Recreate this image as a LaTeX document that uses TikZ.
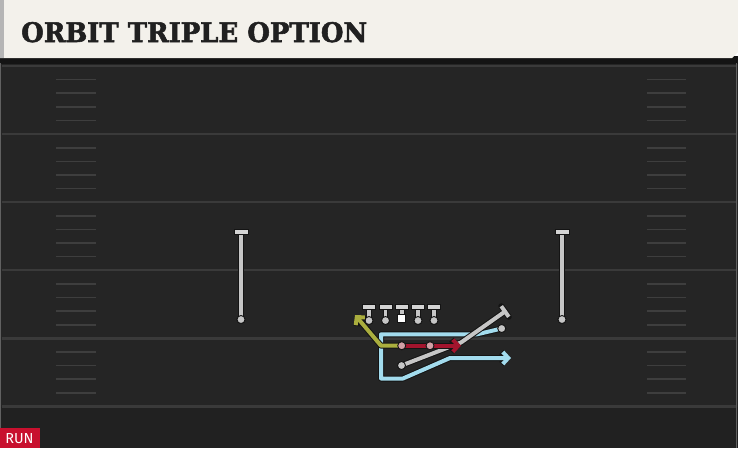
\documentclass[tikz,border=0pt]{standalone}
\usepackage{fontspec}
\usepackage{graphicx}
\usetikzlibrary{arrows.meta,calc}
\newfontfamily\titlefont{DejaVu Serif Bold}[FakeBold=2]
\newfontfamily\runfont{Fira Sans}
\definecolor{fieldbg}{HTML}{252525}
\definecolor{lowbg}{HTML}{212121}
\definecolor{headerbg}{HTML}{F3F1EB}
\definecolor{headedge}{HTML}{B5B5B5}
\definecolor{darkband}{HTML}{141414}
\definecolor{yardc}{HTML}{3A3A3A}
\definecolor{hashc}{HTML}{3E3E3E}
\definecolor{edgec}{HTML}{141414}
\definecolor{playergray}{HTML}{C6C6C6}
\definecolor{bargray}{HTML}{D4D4D4}
\definecolor{bluec}{HTML}{A3DCEE}
\definecolor{redc}{HTML}{A3142D}
\definecolor{olivec}{HTML}{AAAE3E}
\definecolor{pinkc}{HTML}{D2A0A6}
\definecolor{runred}{HTML}{C8102E}
\definecolor{titlec}{HTML}{202020}
\begin{document}
\begin{tikzpicture}[x=1pt,y=-1pt,
  yard/.style={draw=yardc, line width=2.2pt},
  hash/.style={draw=hashc, line width=1.6pt},
  edgeline/.style={draw=edgec, line width=6pt, line cap=round, line join=round},
  stemedge/.style={draw=edgec, line width=5.6pt},
  stemline/.style={draw=playergray, line width=3.8pt},
  tbar/.style={rectangle, minimum width=13pt, minimum height=5pt, inner sep=0pt, fill=bargray, draw=edgec, line width=0.9pt},
  player/.style={circle, minimum size=8pt, inner sep=0pt, fill=playergray, draw=edgec, line width=0.9pt},
  redplayer/.style={player, fill=pinkc},
  centersq/.style={rectangle, minimum size=8pt, inner sep=0pt, fill=white, draw=edgec, line width=0.7pt},
  routeline/.style={line width=4pt, line cap=round, line join=round},
  tip/.style={-{Straight Barb[length=5.5pt,width=12pt]}}
]
\useasboundingbox (0,0) rectangle (738,448);
% backgrounds
\fill[fieldbg] (0,58) rectangle (738,448);
\fill[lowbg] (0,407) rectangle (738,448);
\fill[darkband] (0,56) rectangle (738,63.5);
\fill[headerbg] (0,0) -- (738,0) -- (738,52) -- (732,58) -- (0,58) -- cycle;
\fill[headedge] (0,0) rectangle (4,58);
\draw[yardc!80, line width=1pt] (0.8,63) -- (0.8,448);
\draw[yardc!80, line width=1pt] (736.5,63) -- (736.5,448);
% title
\node[anchor=base west, inner sep=0pt, text=titlec] (title) at (21,42) {\resizebox{346pt}{20pt}{\titlefont ORBIT TRIPLE OPTION}};
% yard lines and hashes
\foreach \k in {0,...,5} {
  \draw[yard] (2,66+68.1*\k) -- (736,66+68.1*\k);
}
\foreach \k in {0,...,4} {
  \foreach \j in {1,...,4} {
    \draw[hash] (56,66+68.1*\k+13.6*\j) -- (96,66+68.1*\k+13.6*\j);
    \draw[hash] (647,66+68.1*\k+13.6*\j) -- (686,66+68.1*\k+13.6*\j);
  }
}
% defenders
\foreach \x/\n in {241/d1,562/d2} {
  \coordinate (\n-top) at (\x,232);
  \node[player] (\n) at (\x,319.5) {};
  \draw[stemedge] (\n-top) -- (\n.center);
  \draw[stemline] (\n-top) -- (\n.center);
  \node[tbar, minimum width=14pt] (\n-bar) at (\n-top) {};
  \node[player] at (\n) {};
}
% linemen
\foreach \x/\n in {369/l1,385.5/l2,418/l4,434/l5} {
  \coordinate (\n-top) at (\x,307);
  \node[player] (\n) at (\x,320.5) {};
  \draw[stemedge] (\n-top) -- (\n.center);
  \draw[stemline] (\n-top) -- (\n.center);
  \node[tbar] (\n-bar) at (\n-top) {};
  \node[player] at (\n) {};
}
\coordinate (c-top) at (401.7,307);
\node[centersq] (c) at (401.7,318.3) {};
\draw[stemedge] (c-top) -- (c.north);
\draw[stemline] (c-top) -- (c.north);
\node[tbar] (c-bar) at (c-top) {};
\node[centersq] at (c) {};
% backfield players
\node[redplayer] (qb) at (401.7,345.7) {};
\node[redplayer] (rb) at (430,345.7) {};
\node[player] (slot) at (501.7,328.5) {};
\node[player] (wing) at (401.5,365.5) {};
% route coordinates
\coordinate (b1) at (477,334.3);
\coordinate (b2) at (381,334.3);
\coordinate (b3) at (381,378.5);
\coordinate (b4) at (403,378.5);
\coordinate (b5) at (450,358);
\coordinate (b6) at (511,358);
\coordinate (y1) at (381,345.7);
\coordinate (y2) at (355,315);
\coordinate (r1) at (461,345.7);
\coordinate (g1) at (461,342.5);
\coordinate (g2) at (505,311.5);
% blue orbit / pitch route
\draw[edgeline, tip] (slot.center) -- (b1) -- (b2) -- (b3) -- (b4) -- (b5) -- (b6);
\draw[routeline, draw=bluec, tip] (slot.center) -- (b1) -- (b2) -- (b3) -- (b4) -- (b5) -- (b6);
% yellow pitch path
\draw[edgeline, tip] (qb.center) -- (y1) -- (y2);
\draw[routeline, draw=olivec, tip] (qb.center) -- (y1) -- (y2);
% gray block
\draw[edgeline] (wing.center) -- (g1) -- (g2);
\draw[edgeline] ($(g2)!6.5pt!90:(g1)$) -- ($(g2)!6.5pt!-90:(g1)$);
\draw[routeline, draw=playergray] (wing.center) -- (g1) -- (g2);
\draw[routeline, draw=playergray, line cap=butt] ($(g2)!6.5pt!90:(g1)$) -- ($(g2)!6.5pt!-90:(g1)$);
% red dive
\draw[edgeline, tip] (qb.center) -- (r1);
\draw[routeline, draw=redc, tip] (qb.center) -- (r1);
% player circles on top
\node[redplayer] at (qb) {};
\node[redplayer] at (rb) {};
\node[player] at (slot) {};
\node[player] at (wing) {};
% RUN tag
\fill[runred] (0,428) rectangle (40,448);
\node[text=white, inner sep=0pt, font=\runfont\fontsize{14.5}{14.5}\selectfont] (run) at (19.5,438.5) {RUN};
\end{tikzpicture}
\end{document}
